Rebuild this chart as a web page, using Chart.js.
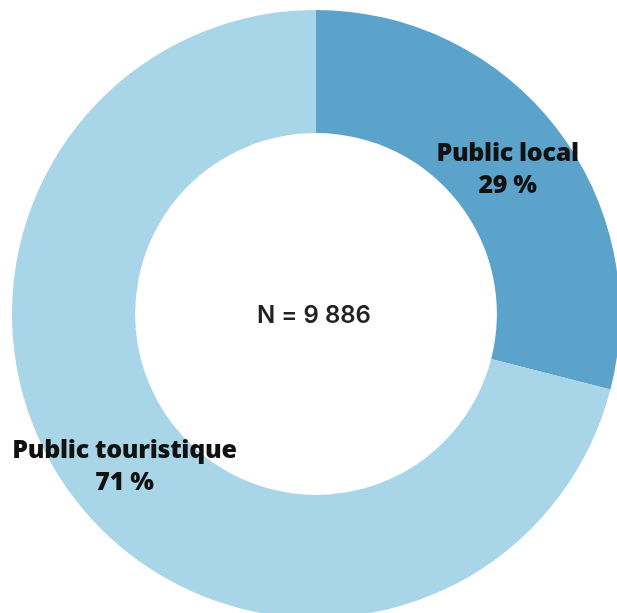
<!DOCTYPE html>
<html><head><meta charset="utf-8">
<script src="https://cdn.jsdelivr.net/npm/chart.js@4"></script>
<style>
html,body{margin:0;padding:0;background:#fff;overflow:hidden;width:617px;height:613px;}
#wrap{position:absolute;left:12px;top:10px;width:608px;height:608px;}
</style></head><body>
<div id="wrap"><canvas id="c"></canvas></div>
<script>
const categories = ["Public local", "Public touristique"];
const shares = [29, 71];
const sliceLabels = ["29 %", "71 %"];
const centerText = "N = 9 886";
const colors = ["#5BA3CB", "#A8D6E8"];

const labelPlugin = {
  id: 'labels',
  afterDatasetsDraw(chart) {
    const ctx = chart.ctx;
    const meta = chart.getDatasetMeta(0);
    ctx.save();
    ctx.fillStyle = '#111';
    ctx.textAlign = 'center';
    ctx.textBaseline = 'middle';
    meta.data.forEach((arc, i) => {
      const p = arc.tooltipPosition();
      ctx.font = '800 25px "Open Sans"';
      ctx.letterSpacing = '-0.3px';
      ctx.fillText(categories[i], p.x, p.y - 12);
      ctx.fillText(sliceLabels[i], p.x, p.y + 20);
    });
    const a = meta.data[0];
    ctx.letterSpacing = '0px';
    ctx.font = '600 24px Inter';
    ctx.fillStyle = '#222';
    ctx.fillText(centerText, a.x - 2, a.y + 2);
    ctx.restore();
  }
};

new Chart(document.getElementById('c'), {
  type: 'doughnut',
  data: { labels: categories, datasets: [{ data: shares, backgroundColor: colors, borderWidth: 0, hoverOffset: 0 }] },
  options: {
    responsive: true, maintainAspectRatio: false, animation: false,
    cutout: '59.5%',
    layout: { padding: 0 },
    plugins: { legend: { display: false }, tooltip: { enabled: false } }
  },
  plugins: [labelPlugin]
});
</script>
</body></html>
